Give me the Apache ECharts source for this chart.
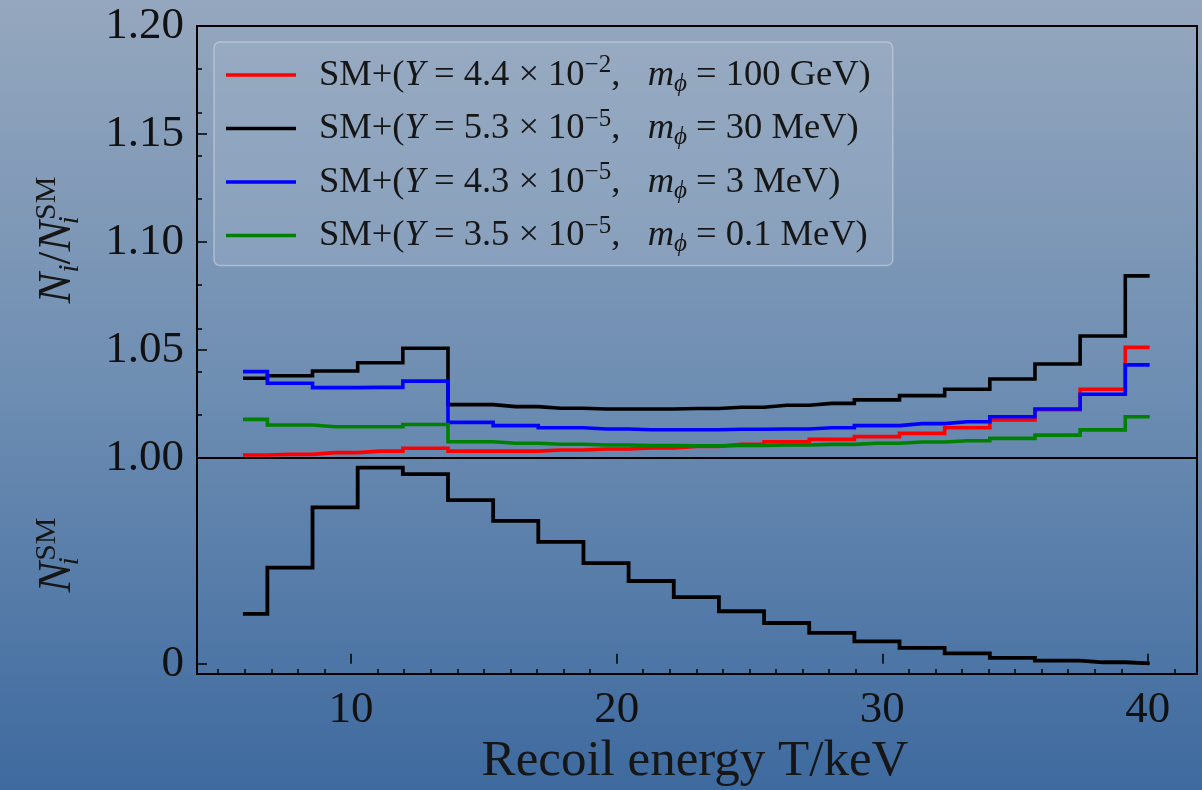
<!DOCTYPE html>
<html><head><meta charset="utf-8">
<script src="https://cdn.jsdelivr.net/npm/echarts@6/dist/echarts.min.js"></script>
<style>html,body{margin:0;padding:0;overflow:hidden;} #c{width:1202px;height:790px;}</style>
</head><body><div id="c"></div>
<script>
// ---- data ----
const energies = [6.0, 7.7, 9.4, 11.1, 12.8, 14.5, 16.2, 17.9, 19.6, 21.3, 23.0, 24.7, 26.4, 28.1, 29.8, 31.5, 33.2, 34.9, 36.6, 38.3, 40.0];
const ratio100GeV = [1.0014, 1.0017, 1.0025, 1.0032, 1.0045, 1.0032, 1.0032, 1.0037, 1.0042, 1.0047, 1.0054, 1.0063, 1.0075, 1.0086, 1.0099, 1.0114, 1.0140, 1.0176, 1.0224, 1.0318, 1.0512];
const ratio30MeV  = [1.0369, 1.0381, 1.0403, 1.0441, 1.0508, 1.0247, 1.0238, 1.0230, 1.0227, 1.0227, 1.0229, 1.0235, 1.0244, 1.0253, 1.0269, 1.0289, 1.0318, 1.0366, 1.0435, 1.0565, 1.0843];
const ratio3MeV   = [1.0400, 1.0346, 1.0326, 1.0327, 1.0356, 1.0165, 1.0150, 1.0140, 1.0134, 1.0131, 1.0131, 1.0133, 1.0134, 1.0140, 1.0150, 1.0159, 1.0168, 1.0191, 1.0227, 1.0295, 1.0431];
const ratio01MeV  = [1.0179, 1.0153, 1.0145, 1.0145, 1.0155, 1.0075, 1.0068, 1.0064, 1.0060, 1.0058, 1.0057, 1.0058, 1.0060, 1.0063, 1.0068, 1.0074, 1.0080, 1.0091, 1.0106, 1.0130, 1.0191];
const nSM = [0.242, 0.467, 0.760, 0.953, 0.922, 0.795, 0.694, 0.592, 0.489, 0.402, 0.324, 0.255, 0.198, 0.150, 0.109, 0.077, 0.050, 0.028, 0.015, 0.007, 0.002];

const xMajorTicks = [10, 20, 30, 40];
const xMinorTicks = [5, 6, 7, 8, 9, 11, 12, 13, 14, 15, 16, 17, 18, 19, 21, 22, 23, 24, 25, 26, 27, 28, 29, 31, 32, 33, 34, 35, 36, 37, 38, 39, 41];
const yMajorTicks = [1.00, 1.05, 1.10, 1.15, 1.20];
const yMinorTicks = [1.02, 1.04, 1.06, 1.08, 1.12, 1.14, 1.16, 1.18];
const nSMTicks = [0];

const seriesNames = [
  'SM+(Y = 4.4 × 10^-2, m_ϕ = 100 GeV)',
  'SM+(Y = 5.3 × 10^-5, m_ϕ = 30 MeV)',
  'SM+(Y = 4.3 × 10^-5, m_ϕ = 3 MeV)',
  'SM+(Y = 3.5 × 10^-5, m_ϕ = 0.1 MeV)'
];
const legendRich = [
  '{lead|SM+(}{i|Y}{n| = 4.4 × 10}{sp|−2}{n|,   }{i|m}{sb|ϕ}{n| = 100 GeV)}',
  '{lead|SM+(}{i|Y}{n| = 5.3 × 10}{sp|−5}{n|,   }{i|m}{sb|ϕ}{n| = 30 MeV)}',
  '{lead|SM+(}{i|Y}{n| = 4.3 × 10}{sp|−5}{n|,   }{i|m}{sb|ϕ}{n| = 3 MeV)}',
  '{lead|SM+(}{i|Y}{n| = 3.5 × 10}{sp|−5}{n|,   }{i|m}{sb|ϕ}{n| = 0.1 MeV)}'
];
const seriesColors = ['#ff0000', '#000000', '#0000ff', '#008000'];
const ratios = [ratio100GeV, ratio30MeV, ratio3MeV, ratio01MeV];

const FONT = '"Liberation Serif", "DejaVu Serif", serif';
const XMIN = 4.2, XMAX = 41.85;

function pairs(ys) { return energies.map((x, i) => [x, ys[i]]); }

const chart = echarts.init(document.getElementById('c'), null, {renderer: 'canvas'});

const tickStyle = {color: '#000', width: 1.5};
const LF = 36.5;
const TXT = '#161616';
const legendStyles = {
  lead: {fontFamily: FONT, fontSize: LF, color: TXT, lineHeight: 32, padding: [0, 0, 0, 18]},
  n: {fontFamily: FONT, fontSize: LF, color: TXT, lineHeight: 32},
  i: {fontFamily: FONT, fontSize: LF, fontStyle: 'italic', color: TXT, lineHeight: 32},
  sp: {fontFamily: FONT, fontSize: 25, color: TXT, lineHeight: 32, padding: [0, 0, 19, 0]},
  sb: {fontFamily: FONT, fontSize: 25, fontStyle: 'italic', color: TXT, lineHeight: 32, padding: [18, 0, 0, 0]}
};
const titleStyles = {
  it: {fontFamily: FONT, fontSize: 46, fontStyle: 'italic', color: TXT, lineHeight: 50},
  rm: {fontFamily: FONT, fontSize: 46, color: TXT, lineHeight: 50},
  sb: {fontFamily: FONT, fontSize: 30, fontStyle: 'italic', color: TXT, lineHeight: 50, padding: [25, 0, 0, 0]},
  sbz: {fontFamily: FONT, fontSize: 30, fontStyle: 'italic', color: TXT, lineHeight: 50, padding: [25, 0, 0, 0], width: 1},
  sp: {fontFamily: FONT, fontSize: 30, color: TXT, lineHeight: 50, padding: [0, 0, 22, 0]}
};

const series = ratios.map((r, k) => ({
  name: seriesNames[k], type: 'line', step: 'middle', xAxisIndex: 0, yAxisIndex: 0,
  data: pairs(r), showSymbol: false, symbol: 'none',
  lineStyle: {color: seriesColors[k], width: 3.6, cap: 'square', join: 'miter'}, itemStyle: {color: seriesColors[k]},
  z: 3 + k, animation: false
}));
series.push({
  name: 'N_SM', type: 'line', step: 'middle', xAxisIndex: 1, yAxisIndex: 2,
  data: pairs(nSM), showSymbol: false, symbol: 'none',
  lineStyle: {color: '#000', width: 3.8, cap: 'square', join: 'miter'}, itemStyle: {color: '#000'}, animation: false
});

chart.setOption({
  animation: false,
  backgroundColor: new echarts.graphic.LinearGradient(0, 0, 0, 1, [
    {offset: 0, color: '#95a7be'},
    {offset: 0.5, color: '#6d8db2'},
    {offset: 1, color: '#3e6a9f'}
  ]),
  grid: [
    {left: 197, top: 26, width: 1000, height: 432, show: true, borderColor: '#000', borderWidth: 2, backgroundColor: 'transparent', containLabel: false},
    {left: 197, top: 458, width: 1000, height: 216, show: true, borderColor: '#000', borderWidth: 2, backgroundColor: 'transparent', containLabel: false}
  ],
  xAxis: [
    {gridIndex: 0, type: 'value', min: XMIN, max: XMAX, show: false, splitLine: {show: false}},
    {gridIndex: 1, type: 'value', min: XMIN, max: XMAX, position: 'bottom',
      axisLine: {show: false}, splitLine: {show: false},
      axisTick: {show: true, inside: true, length: 10, lineStyle: tickStyle, customValues: xMajorTicks},
      axisLabel: {show: true, customValues: xMajorTicks, fontFamily: FONT, fontSize: 45, color: '#111', margin: 14}},
    {gridIndex: 1, type: 'value', min: XMIN, max: XMAX, position: 'bottom',
      axisLine: {show: false}, splitLine: {show: false},
      axisTick: {show: true, inside: true, length: 5, lineStyle: tickStyle, customValues: xMinorTicks},
      axisLabel: {show: false}}
  ],
  yAxis: [
    {gridIndex: 0, type: 'value', min: 1.0, max: 1.2, position: 'left',
      axisLine: {show: false}, splitLine: {show: false},
      axisTick: {show: true, inside: true, length: 10, lineStyle: tickStyle, customValues: yMajorTicks},
      axisLabel: {show: true, customValues: yMajorTicks, formatter: v => v.toFixed(2), fontFamily: FONT, fontSize: 45, color: '#111', margin: 13}},
    {gridIndex: 0, type: 'value', min: 1.0, max: 1.2, position: 'left', offset: 0,
      axisLine: {show: false}, splitLine: {show: false},
      axisTick: {show: true, inside: true, length: 5, lineStyle: tickStyle, customValues: yMinorTicks},
      axisLabel: {show: false}},
    {gridIndex: 1, type: 'value', min: -0.05, max: 1.0, position: 'left',
      axisLine: {show: false}, splitLine: {show: false},
      axisTick: {show: true, inside: true, length: 10, lineStyle: tickStyle, customValues: nSMTicks},
      axisLabel: {show: true, customValues: nSMTicks, formatter: v => String(Math.round(v)), fontFamily: FONT, fontSize: 45, color: '#111', margin: 13}}
  ],
  legend: {
    show: true, orient: 'vertical', left: 214, top: 42,
    data: seriesNames, icon: 'rect', itemWidth: 70, itemHeight: 3.6, itemGap: 9.5,
    padding: [11, 22, 8, 12],
    backgroundColor: 'rgba(165,183,204,0.33)', borderColor: 'rgba(200,208,218,0.65)', borderWidth: 1.5, borderRadius: 6,
    selectedMode: false,
    formatter: name => legendRich[seriesNames.indexOf(name)],
    textStyle: {fontFamily: FONT, fontSize: LF, color: TXT, lineHeight: 32, rich: legendStyles}
  },
  graphic: [
    {type: 'text', x: 695, y: 762, style: {text: 'Recoil energy T/keV', fontFamily: FONT, fontSize: 51, fill: TXT, align: 'center', verticalAlign: 'middle'}},
    {type: 'text', x: 58, y: 240, rotation: Math.PI / 2,
      style: {text: '{it|N}{sb|i}{rm|/}{it|N}{sbz|i}{sp|SM}', rich: titleStyles, fontFamily: FONT, fontSize: 46, fill: TXT, align: 'center', verticalAlign: 'middle'}},
    {type: 'text', x: 58, y: 555, rotation: Math.PI / 2,
      style: {text: '{it|N}{sbz|i}{sp|SM}', rich: titleStyles, fontFamily: FONT, fontSize: 46, fill: TXT, align: 'center', verticalAlign: 'middle'}}
  ],
  series: series
});
</script></body></html>
